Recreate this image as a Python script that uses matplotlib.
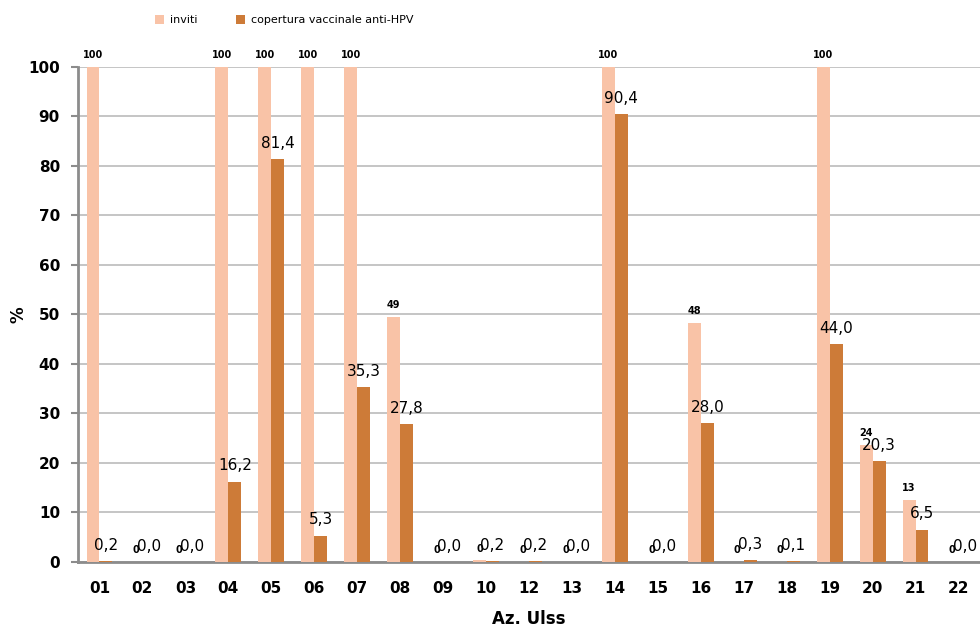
import numpy as np
import matplotlib.pyplot as plt

# --- data ---
ulss = ["01", "02", "03", "04", "05", "06", "07", "08", "09", "10", "12",
        "13", "14", "15", "16", "17", "18", "19", "20", "21", "22"]
inviti = [100, 0, 0, 100, 100, 100, 100, 49.4, 0, 0.3, 0,
          0, 100, 0, 48.3, 0, 0, 100, 23.6, 12.6, 0]
copertura = [0.2, 0.0, 0.0, 16.2, 81.4, 5.3, 35.3, 27.8, 0.0, 0.2, 0.2,
             0.0, 90.4, 0.0, 28.0, 0.3, 0.1, 44.0, 20.3, 6.5, 0.0]

C_INV = "#f9c3a7"
C_COP = "#cd7b38"
GRAY = "#8c8c8c"

fig = plt.figure(figsize=(9.8, 6.3), dpi=100)
ax = fig.add_axes([0.0796, 0.108, 0.9204, 0.786])

x = np.arange(len(ulss))
w = 0.3
b1 = ax.bar(x - w / 2, inviti, width=w, color=C_INV, label="inviti", zorder=3)
b2 = ax.bar(x + w / 2, copertura, width=w, color=C_COP,
            label="copertura vaccinale anti-HPV", zorder=3)

# data labels
for xi, v in zip(x, inviti):
    ax.annotate(f"{v:.0f}", (xi - w / 2, v), xytext=(0, 5), textcoords="offset points",
                ha="center", va="bottom", fontsize=7, fontweight="bold", zorder=4)
for xi, v in zip(x, copertura):
    ax.annotate(f"{v:.1f}".replace(".", ","), (xi + w / 2, v), xytext=(0, 6),
                textcoords="offset points", ha="center", va="bottom",
                fontsize=11, zorder=4)

ax.set_xlim(-0.5, len(ulss) - 0.5)
ax.set_ylim(0, 100)
ax.set_yticks(range(0, 101, 10))
ax.set_xticks(x)
ax.set_xticklabels(ulss)
ax.tick_params(axis="x", length=0, pad=14, labelsize=11)
ax.tick_params(axis="y", length=5, width=1.5, color=GRAY, pad=8, labelsize=11)
for lbl in ax.get_xticklabels() + ax.get_yticklabels():
    lbl.set_fontweight("bold")

ax.grid(axis="y", color="#c0c0c0", linewidth=1.3, zorder=0)
for s in ["top", "right"]:
    ax.spines[s].set_visible(False)
for s in ["left", "bottom"]:
    ax.spines[s].set_color(GRAY)
    ax.spines[s].set_linewidth(2)

ax.set_xlabel("Az. Ulss", fontsize=12, fontweight="bold", labelpad=10)
ax.set_ylabel("%", fontsize=12, fontweight="bold")
ax.yaxis.set_label_coords(-0.056, 0.5)

fig.legend(handles=[b1, b2], loc="center", bbox_to_anchor=(0.29, 0.968), ncol=2,
           frameon=False, fontsize=8, handlelength=0.8, handleheight=0.8,
           handletextpad=0.5, columnspacing=3.5)

fig.savefig("out.png", dpi=100)
